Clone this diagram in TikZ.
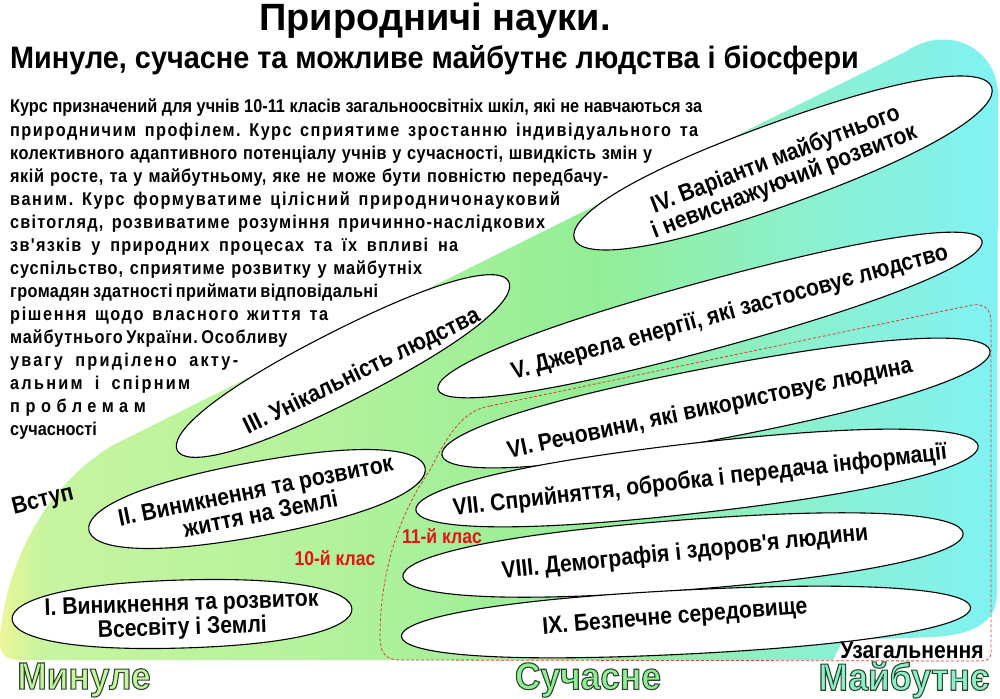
\documentclass[tikz,border=0pt]{standalone}
\usepackage{fontspec}
\setmainfont{Liberation Sans}
\newfontfamily\narrowfont[FakeStretch=0.88]{Liberation Sans}
\newfontfamily\headfont[FakeStretch=0.93]{Liberation Sans}
\usepackage{xcolor}
\definecolor{leafyellow}{RGB}{236,246,150}
\definecolor{leaflime}{RGB}{200,244,160}
\definecolor{leafgreen}{RGB}{146,238,150}
\definecolor{leafmint}{RGB}{140,240,205}
\definecolor{leafcyan}{RGB}{128,242,244}
\definecolor{classred}{RGB}{228,20,20}
\definecolor{dashred}{RGB}{220,60,50}
\usepackage{tikz}

\pgfdeclarehorizontalshading{timeline}{100bp}{color(0bp)=(leafyellow); color(25bp)=(leafyellow);
  color(27bp)=(leaflime); color(42bp)=(leaflime!60!leafgreen); color(55bp)=(leafgreen);
  color(65bp)=(leafmint); color(75bp)=(leafcyan); color(100bp)=(leafcyan)}

% one justified line of the intro text
\newcommand{\spreadline}[3]{\makebox[#1pt][s]{\addfontfeature{LetterSpace=#2}#3}}
% outlined word (fill + stroke)
\newcommand{\outlineword}[2]{{\color{#1}\special{pdf:literal direct 2 Tr 1.1 w 0.16 0.28 0.16 RG}#2\special{pdf:literal direct 0 Tr 0.4 w 0 0 0 RG}}}
% topic leaf: centre x, centre y, angle, half length, half width
\newcommand{\topicleaf}[5]{%
    \draw[topic, shift={(#1,#2)}, rotate=#3] (-#4,0)
        .. controls (-#4,{-0.5*#5}) and ({-0.72*#4},-#5) .. (0,-#5)
        .. controls ({0.72*#4},-#5) and (#4,{-0.5*#5}) .. (#4,0)
        .. controls (#4,{0.5*#5}) and ({0.72*#4},#5) .. (0,#5)
        .. controls ({-0.72*#4},#5) and (-#4,{0.5*#5}) .. (-#4,0) -- cycle;}

\tikzset{
    para/.style={anchor=base west, inner sep=0pt, font=\narrowfont\bfseries\fontsize{18.5}{18.5}\selectfont},
    topic/.style={draw=black, line width=1.1pt, fill=white},
    topictext/.style={align=center, inner sep=0pt, font=\narrowfont\bfseries\fontsize{24}{24}\selectfont},
    classlabel/.style={text=classred, inner sep=0pt, font=\narrowfont\bfseries\fontsize{20}{20}\selectfont},
    era/.style={inner sep=0pt, font=\headfont\bfseries\fontsize{38}{38}\selectfont}
}

\begin{document}
\frenchspacing
\begin{tikzpicture}[x=1pt, y=-1pt]
    \useasboundingbox (0,0) rectangle (1000,698);
    \fill[white] (0,0) rectangle (1000,698);

    % Title
    \node[anchor=base, inner sep=0pt, font=\bfseries\fontsize{38}{38}\selectfont] (title) at (435,31) {Природничі науки.};
    \node[anchor=base west, inner sep=0pt, font=\headfont\bfseries\fontsize{31}{31}\selectfont] (subtitle) at (10,69) {Минуле, сучасне та можливе майбутнє людства і біосфери};

    % Timeline band
    \shade[shading=timeline] (0,640) .. controls (0,655) and (5,660) .. (20,660) -- (833,660) -- (843,640)
        -- (935,637) .. controls (975,634) and (996,622) .. (997,595) -- (998,95)
        .. controls (998,50) and (950,22) .. (905,52) -- (117,443)
        .. controls (50,480) and (5,560) .. (0,640) -- cycle;

    % Intro text
    \node[para] (p1) at (10,113) {\spreadline{692}{0}{Курс призначений для учнів 10-11 класів загальноосвітніх шкіл, які не навчаються за}};
    \node[para] (p2) at (10,136) {\spreadline{688}{8}{природничим профілем. Курс сприятиме зростанню індивідуального та}};
    \node[para] (p3) at (10,159) {\spreadline{642}{2.5}{колективного адаптивного потенціалу учнів у сучасності, швидкість змін у}};
    \node[para] (p4) at (10,182) {\spreadline{598}{3}{якій росте, та у майбутньому, яке не може бути повністю передбачу-}};
    \node[para] (p5) at (10,205) {\spreadline{550}{8.5}{ваним. Курс формуватиме цілісний природничонауковий}};
    \node[para] (p6) at (10,228) {\spreadline{535}{6.5}{світогляд, розвиватиме розуміння причинно-наслідкових}};
    \node[para] (p7) at (10,251) {\spreadline{448}{7}{зв'язків у природних процесах та їх впливі на}};
    \node[para] (p8) at (10,274) {\spreadline{412}{5}{суспільство, сприятиме розвитку у майбутніх}};
    \node[para] (p9) at (10,297) {\spreadline{365}{2}{громадян здатності приймати відповідальні}};
    \node[para] (p10) at (10,320) {\spreadline{318}{9}{рішення щодо власного життя та}};
    \node[para] (p11) at (10,343) {\spreadline{273}{4.5}{майбутнього України. Особливу}};
    \node[para] (p12) at (10,366) {\spreadline{228}{12}{увагу приділено акту-}};
    \node[para] (p13) at (10,389) {\spreadline{180}{12}{альним і спірним}};
    \node[para] (p14) at (10,412) {\addfontfeature{LetterSpace=30}проблемам};
    \node[para] (p15) at (10,435) {сучасності};

    % Topics
    \topicleaf{182}{614}{1.7}{170}{34}
    \node[topictext, rotate=2] (t1) at (182,617) {I. Виникнення та розвиток\\Всесвіту і Землі};

    \topicleaf{257}{499}{10.5}{171}{37}
    \node[topictext, rotate=11.5] (t2) at (258,502) {II. Виникнення та розвиток\\життя на Землі};

    \topicleaf{343}{366}{27}{186}{35}
    \node[topictext, rotate=26] (t3) at (362,372) {III. Унікальність людства};

    \topicleaf{783}{163}{20}{222}{41}
    \node[topictext, rotate=21] (t4) at (780,171) {IV. Варіанти майбутнього\\і невиснажуючий розвиток};

    \topicleaf{710}{315}{15.3}{282}{34}
    \node[topictext, rotate=15.5] (t5) at (730,313) {V. Джерела енергії, які застосовує людство};

    \topicleaf{716}{403}{10.8}{279}{36}
    \node[topictext, rotate=12] (t6) at (710,409) {VI. Речовини, які використовує людина};

    \topicleaf{697}{478}{6.5}{283}{35}
    \node[topictext, rotate=6.5] (t7) at (700,481) {VII. Сприйняття, обробка і передача інформації};

    \topicleaf{683}{555}{4.4}{281}{35}
    \node[topictext, rotate=6] (t8) at (685,553) {VIII. Демографія і здоров'я людини};

    \topicleaf{686}{622}{2.9}{285}{32}
    \node[topictext, rotate=4.5] (t9) at (675,618) {IX. Безпечне середовище};

    % 11th grade frame
    \draw[dashred, line width=0.8pt, dash pattern=on 3pt off 2pt] (490,406) -- (972,305)
        .. controls (985,303) and (991,310) .. (991,322) -- (991,652)
        .. controls (991,658) and (988,661) .. (982,661) -- (400,660)
        .. controls (385,660) and (380,652) .. (380,637)
        .. controls (380,580) and (395,520) .. (430,470)
        .. controls (450,430) and (465,410) .. (490,406);

    % Labels
    \node[inner sep=0pt, rotate=14, font=\narrowfont\bfseries\fontsize{24}{24}\selectfont] (intro) at (43,501) {Вступ};
    \node[classlabel] (cls10) at (335,558) {10-й клас};
    \node[classlabel] (cls11) at (442,536) {11-й клас};
    \node[inner sep=0pt, font=\narrowfont\bfseries\fontsize{24}{24}\selectfont] (summary) at (912,650) {Узагальнення};

    % Eras
    \node[era] (past) at (84,680) {\outlineword{leaflime}{Минуле}};
    \node[era] (present) at (588,680) {\outlineword{leafgreen}{Сучасне}};
    \node[era] (future) at (904,680) {\outlineword{leafmint}{Майбутнє}};
\end{tikzpicture}
\end{document}
